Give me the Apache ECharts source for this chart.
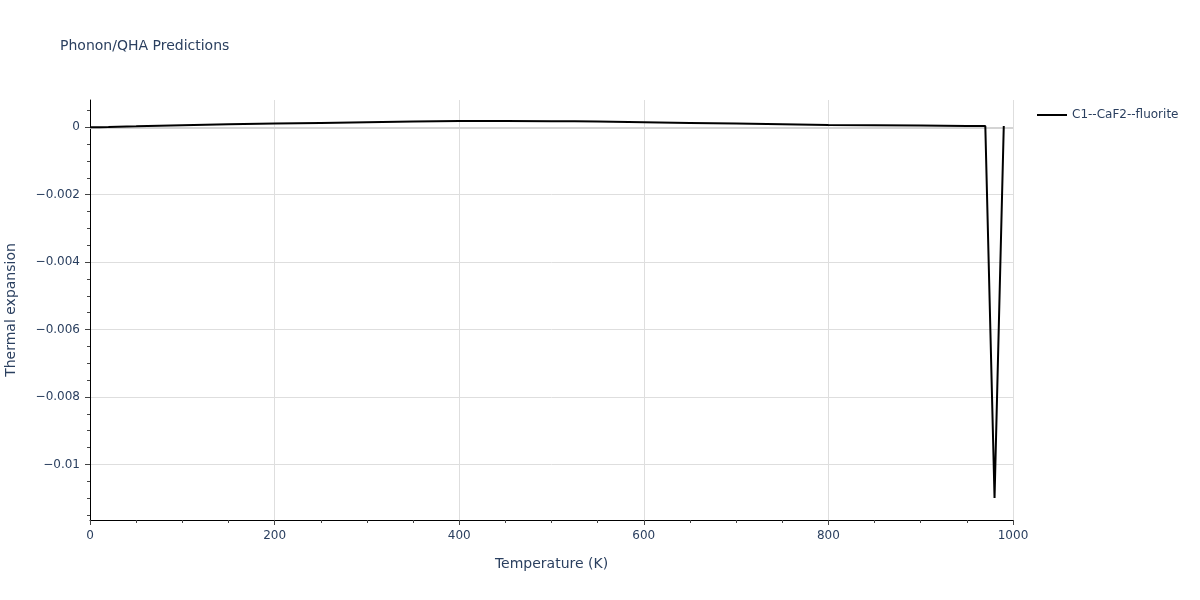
<!DOCTYPE html>
<html>
<head>
<meta charset="utf-8">
<script src="https://cdn.jsdelivr.net/npm/echarts@6/dist/echarts.min.js"></script>
<style>html,body{margin:0;padding:0;background:#fff}#c{width:1200px;height:600px}</style>
</head>
<body>
<div id="c"></div>
<script>
const temperatures = [0, 10, 20, 30, 50, 100, 150, 200, 250, 300, 350, 400, 415, 450, 500, 525, 550, 600, 650, 700, 750, 800, 850, 900, 950, 970, 980, 990];
const thermalExpansion = [0, 0.000005, 0.00001, 0.00002, 0.00003, 0.00006, 0.00009, 0.00011, 0.00013, 0.00015, 0.00017, 0.00019, 0.00019, 0.00019, 0.00018, 0.00018, 0.00017, 0.00015, 0.00013, 0.00011, 0.00009, 0.00007, 0.00006, 0.00005, 0.00004, 0.00004, -0.011, 0.00004];
const seriesName = 'C1--CaF2--fluorite';
const yMajorTicks = [0, -0.002, -0.004, -0.006, -0.008, -0.01];
const yMinorTicks = [0.0005, -0.0005, -0.001, -0.0015, -0.0025, -0.003, -0.0035, -0.0045, -0.005, -0.0055, -0.0065, -0.007, -0.0075, -0.0085, -0.009, -0.0095, -0.0105, -0.011, -0.0115];
const yMin = -0.01165, yMax = 0.00081;

const textColor = '#2a3f5f';
const font = '"DejaVu Sans", Verdana, sans-serif';
const chart = echarts.init(document.getElementById('c'));
const fmt = v => {
  if (Math.abs(v) < 1e-12) return '0';
  return '\u2212' + String(+Math.abs(v).toFixed(4));
};
chart.setOption({
  animation: false,
  backgroundColor: '#fff',
  title: {
    text: 'Phonon/QHA Predictions', left: 55, top: 34,
    textStyle: { fontFamily: font, fontSize: 14, fontWeight: 'normal', color: textColor }
  },
  legend: {
    left: 1032, top: 104, icon: 'rect', itemWidth: 30, itemHeight: 2, itemGap: 5,
    textStyle: { fontFamily: font, fontSize: 12, color: textColor },
    data: [seriesName]
  },
  grid: { left: 90, right: 187, top: 100, bottom: 80, containLabel: false, outerBoundsMode: 'none' },
  xAxis: {
    type: 'value', min: 0, max: 1000, interval: 200,
    name: 'Temperature (K)', nameLocation: 'middle', nameGap: 37,
    nameTextStyle: { fontFamily: font, fontSize: 14, color: textColor },
    axisLine: { show: true, onZero: false, lineStyle: { color: '#000', width: 1 } },
    axisTick: { show: true, length: 5, lineStyle: { color: '#444' } },
    minorTick: { show: true, splitNumber: 4, length: 3, lineStyle: { color: '#444' } },
    axisLabel: { fontFamily: font, fontSize: 12, color: textColor, margin: 10, formatter: v => String(v) },
    splitLine: { show: true, lineStyle: { color: '#dedede', width: 1 } }
  },
  yAxis: [{
    type: 'value', min: yMin, max: yMax,
    name: 'Thermal expansion', nameLocation: 'middle', nameGap: 72,
    nameTextStyle: { fontFamily: font, fontSize: 14, color: textColor },
    axisLine: { show: true, onZero: false, lineStyle: { color: '#000', width: 1 } },
    axisTick: { show: true, length: 5, customValues: yMajorTicks, lineStyle: { color: '#444' } },
    axisLabel: { fontFamily: font, fontSize: 12, color: textColor, margin: 10, customValues: yMajorTicks, formatter: fmt },
    splitLine: { show: true, lineStyle: { color: '#dedede', width: 1 } }
  }, {
    type: 'value', min: yMin, max: yMax, position: 'left',
    axisLine: { show: false, onZero: false },
    axisTick: { show: true, length: 3, customValues: yMinorTicks, lineStyle: { color: '#444' } },
    axisLabel: { show: false, customValues: yMinorTicks },
    splitLine: { show: false }
  }],
  series: [{
    name: 'zero', type: 'line', yAxisIndex: 0, data: [], z: 1,
    markLine: {
      silent: true, symbol: 'none', label: { show: false }, animation: false,
      lineStyle: { color: '#d4d4d4', width: 2, type: 'solid' },
      data: [{ yAxis: 0 }]
    }
  }, {
    name: seriesName, type: 'line', yAxisIndex: 0,
    data: temperatures.map((t, i) => [t, thermalExpansion[i]]),
    showSymbol: false, symbol: 'none',
    lineStyle: { color: '#000', width: 2 }, itemStyle: { color: '#000' },
    z: 5
  }]
});
</script>
</body>
</html>
